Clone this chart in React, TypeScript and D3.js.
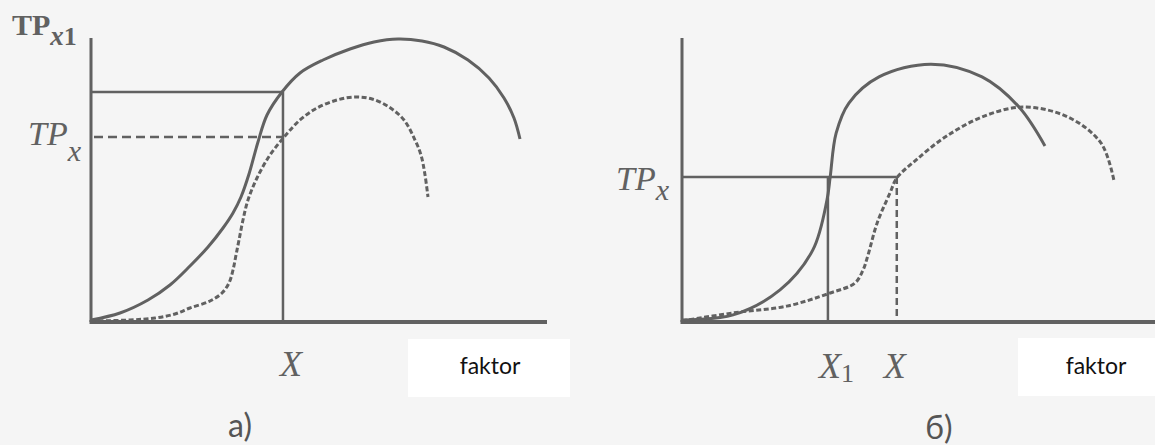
import React from "react"
import * as d3 from "d3"

// curves, in axis units (0..100 on both axes)
const solidA: [number, number][] = [
  [0, 0.7], [6.36, 3.17], [12.5, 7.75], [17.32, 13.03], [21.71, 19.72], [25.66, 26.41],
  [28.95, 33.1], [31.14, 38.38], [32.89, 44.01], [34.65, 52.11], [36.62, 63.38],
  [38.6, 72.89], [41.89, 80.99], [45.83, 87.68], [50.88, 92.25], [56.8, 96.13],
  [62.06, 98.59], [67.32, 99.65], [72.59, 98.94], [77.41, 96.83], [82.68, 92.25],
  [87.28, 85.92], [90.57, 78.87], [92.76, 71.83], [94.08, 64.44]
]
const dashedA: [number, number][] = [
  [0, 0.35], [8.55, 0.7], [14.04, 1.41], [18.42, 2.82], [21.71, 4.93], [26.1, 7.39],
  [28.73, 10.21], [30.26, 13.73], [31.14, 18.31], [31.8, 23.59], [32.46, 28.87],
  [33.33, 35.92], [34.43, 42.96], [36.4, 50.7], [39.25, 58.8], [42.54, 65.49],
  [45.83, 71.13], [49.56, 75.35], [53.95, 78.17], [57.89, 79.23], [61.62, 78.52],
  [65.35, 75.7], [68.64, 71.13], [71.05, 64.08], [72.37, 58.8], [73.25, 51.76], [73.9, 44.01]
]
const solidB: [number, number][] = [
  [0, 0.7], [11.2, 2.5], [21.5, 11.3], [28.7, 25.4], [31.8, 43], [32.5, 51.1],
  [33.8, 66.5], [36.6, 77.1], [43.2, 86.3], [54.6, 90.8], [65.8, 86.3],
  [73.9, 75.7], [79.6, 62]
]
const dashedB: [number, number][] = [
  [0, 0.4], [11.2, 3.2], [23, 5.6], [32.5, 10.2], [37.9, 13.7], [39.7, 18.3],
  [40.8, 23.6], [42.8, 34.9], [45.6, 45.4], [47.1, 50.7], [51.3, 57], [57.7, 65.1],
  [65.8, 72.2], [74.8, 75.7], [84.6, 72.2], [91.9, 63], [94.7, 50]
]

// guide levels
const xLevelsA = [42.1]
const yLevelsA = [81, 65.1]
const xLevelsB = [32, 47.1]
const yLevelsB = [51.1]

const panelTitles = ["a)", "б)"]
const axisName = "faktor"

const W = 1155
const H = 445
const ink = "#616161"
const serif = "'Liberation Serif', 'DejaVu Serif', serif"
const sans = "Lato, 'Open Sans', sans-serif"

const line = (x: d3.ScaleLinear<number, number>, y: d3.ScaleLinear<number, number>) =>
  d3
    .line<[number, number]>()
    .x(d => x(d[0]))
    .y(d => y(d[1]))
    .curve(d3.curveCatmullRom.alpha(0.5))

export default function App() {
  const y = d3.scaleLinear().domain([0, 100]).range([322, 38])
  const xA = d3.scaleLinear().domain([0, 100]).range([91, 547])
  const xB = d3.scaleLinear().domain([0, 100]).range([682, 1138])

  const lineA = line(xA, y)
  const lineB = line(xB, y)

  return (
    <svg
      width={W}
      height={H}
      style={{ position: "absolute", left: 0, top: 0, background: "#f5f5f5" }}
    >
      <rect width={W} height={H} fill="#f5f5f5" />

      {/* white patches behind the axis names */}
      <rect x={408} y={339} width={162} height={58} fill="#fff" />
      <rect x={1018} y={338} width={137} height={58} fill="#fff" />

      {/* panel a */}
      <g fill="none" stroke={ink}>
        <line x1={xA(0)} x2={xA(0)} y1={y(0)} y2={y(100)} strokeWidth={3} />
        <line x1={xA(0) - 1.5} x2={xA(100)} y1={y(0)} y2={y(0)} strokeWidth={4} />
        <line x1={xA(0)} x2={xA(xLevelsA[0])} y1={y(yLevelsA[0])} y2={y(yLevelsA[0])} strokeWidth={2.5} />
        <line
          x1={xA(0) + 3}
          x2={xA(xLevelsA[0])}
          y1={y(yLevelsA[1])}
          y2={y(yLevelsA[1])}
          strokeWidth={2.5}
          strokeDasharray="9,5"
        />
        <line x1={xA(xLevelsA[0])} x2={xA(xLevelsA[0])} y1={y(yLevelsA[0])} y2={y(0)} strokeWidth={2.5} />
        <path d={lineA(solidA) ?? ""} strokeWidth={3} />
        <path d={lineA(dashedA) ?? ""} strokeWidth={3} strokeDasharray="5,2.5" />
      </g>

      {/* panel б */}
      <g fill="none" stroke={ink}>
        <line x1={xB(0)} x2={xB(0)} y1={y(0)} y2={y(100)} strokeWidth={3} />
        <line x1={xB(0) - 1.5} x2={xB(104)} y1={y(0)} y2={y(0)} strokeWidth={4} />
        <line x1={xB(0)} x2={xB(xLevelsB[1])} y1={y(yLevelsB[0])} y2={y(yLevelsB[0])} strokeWidth={2.5} />
        <line x1={xB(xLevelsB[0])} x2={xB(xLevelsB[0])} y1={y(yLevelsB[0])} y2={y(0)} strokeWidth={2.5} />
        <line
          x1={xB(xLevelsB[1])}
          x2={xB(xLevelsB[1])}
          y1={y(yLevelsB[0])}
          y2={y(0)}
          strokeWidth={2.5}
          strokeDasharray="7,4"
        />
        <path d={lineB(solidB) ?? ""} strokeWidth={3} />
        <path d={lineB(dashedB) ?? ""} strokeWidth={3} strokeDasharray="5,2.5" />
      </g>

      {/* serif labels */}
      <g fill={ink} fontFamily={serif}>
        <text x={12} y={35} fontSize={30} fontWeight="bold">
          TP
          <tspan dy={10} fontSize={27} fontStyle="italic">x</tspan>
          <tspan fontSize={26}>1</tspan>
        </text>
        <text x={28} y={y(yLevelsA[1]) + 8} fontSize={34} fontStyle="italic">
          TP
          <tspan dy={16} fontSize={30}>x</tspan>
        </text>
        <text x={xA(xLevelsA[0]) + 8} y={376} fontSize={36} fontStyle="italic" textAnchor="middle">
          X
        </text>

        <text x={616} y={y(yLevelsB[0]) + 13} fontSize={34} fontStyle="italic">
          TP
          <tspan dy={10} fontSize={30}>x</tspan>
        </text>
        <text x={xB(xLevelsB[0]) - 9} y={378} fontSize={36} fontStyle="italic">
          X
          <tspan fontSize={26} fontStyle="normal" dy={4}>1</tspan>
        </text>
        <text x={xB(xLevelsB[1]) - 2} y={378} fontSize={36} fontStyle="italic" textAnchor="middle">
          X
        </text>
      </g>

      {/* axis names and panel titles */}
      <g fontFamily={sans}>
        <text x={490} y={374} fontSize={23} fill="#111" textAnchor="middle">{axisName}</text>
        <text x={1096} y={374} fontSize={23} fill="#111" textAnchor="middle">{axisName}</text>
        <text x={240} y={437} fontSize={32} fill="#555" textAnchor="middle">{panelTitles[0]}</text>
        <text x={939} y={439} fontSize={32} fill="#555" textAnchor="middle">{panelTitles[1]}</text>
      </g>
    </svg>
  )
}
